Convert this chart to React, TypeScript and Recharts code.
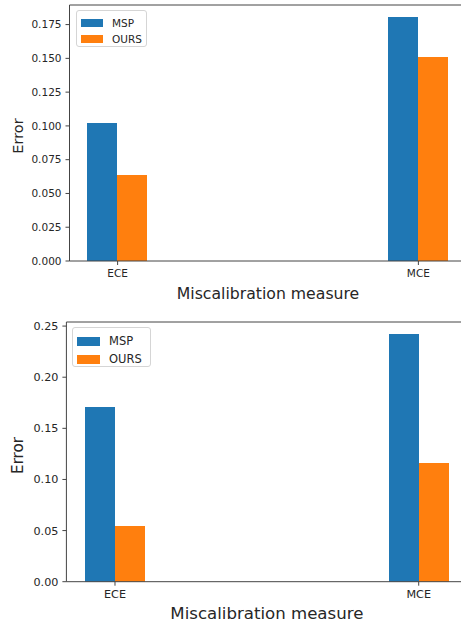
import { Bar, BarChart, ReferenceLine, XAxis, YAxis } from 'recharts';

const categories = ['ECE', 'MCE'];
const categoryPositions = [0, 1];
const seriesNames = ['MSP', 'OURS'];
const seriesColors = ['#1f77b4', '#ff7f0e'];

// top panel
const topMsp = [0.102, 0.1805];
const topOurs = [0.0635, 0.1512];
const topTicks = [0, 0.025, 0.05, 0.075, 0.1, 0.125, 0.15, 0.175];
const topMax = 0.1895;

// bottom panel
const bottomMsp = [0.1705, 0.2419];
const bottomOurs = [0.0548, 0.1158];
const bottomTicks = [0, 0.05, 0.1, 0.15, 0.2, 0.25];
const bottomMax = 0.254;

const FONT = '"DejaVu Sans", Verdana, sans-serif';
const AXIS = '#444';
const TEXT = '#262626';

function buildRows(msp: number[], ours: number[]) {
  return categoryPositions.map((x, i) => ({ x, name: categories[i], MSP: msp[i], OURS: ours[i] }));
}

type PanelProps = {
  top: number;
  height: number;
  msp: number[];
  ours: number[];
  ticks: number[];
  yMax: number;
  digits: number;
  margin: { top: number; right: number; bottom: number; left: number };
  yAxisWidth: number;
  tickFont: number;
  xLabelFont: number;
  yLabelFont: number;
  xLabelDy: number;
  yLabelY: number;
  tickMargin: number;
  legend: { left: number; top: number; width: number; height: number; row: number; patchW: number; patchH: number; font: number };
};

function Panel(p: PanelProps) {
  const rows = buildRows(p.msp, p.ours);
  const XLabel = (props: any) => {
    const vb = props.viewBox || {};
    return (
      <text
        x={vb.x + vb.width / 2}
        y={vb.y + p.xLabelDy}
        textAnchor="middle"
        dominantBaseline="central"
        fontSize={p.xLabelFont}
        fontFamily={FONT}
        fill={TEXT}
      >
        Miscalibration measure
      </text>
    );
  };
  const YLabel = () => (
    <text
      x={17.5}
      y={p.yLabelY}
      transform={`rotate(-90, 17.5, ${p.yLabelY})`}
      textAnchor="middle"
      dominantBaseline="central"
      fontSize={p.yLabelFont}
      fontFamily={FONT}
      fill={TEXT}
    >
      Error
    </text>
  );
  const lg = p.legend;
  return (
    <div style={{ position: 'absolute', left: 0, top: p.top, width: 480, height: p.height }}>
      <BarChart width={480} height={p.height} data={rows} margin={p.margin} barGap={0}>
        <XAxis
          dataKey="x"
          type="number"
          domain={[-0.16, 1.16]}
          allowDataOverflow
          ticks={categoryPositions}
          tickFormatter={(v: number) => categories[categoryPositions.indexOf(v)] ?? ''}
          tick={{ fontSize: p.tickFont, fill: TEXT, fontFamily: FONT }}
          tickSize={4}
          tickMargin={p.tickMargin}
          stroke={AXIS}
          height={30}
          label={{ content: XLabel }}
        />
        <YAxis
          type="number"
          domain={[0, p.yMax]}
          allowDataOverflow
          ticks={p.ticks}
          interval={0}
          tickFormatter={(v: number) => v.toFixed(p.digits)}
          tick={{ fontSize: p.tickFont, fill: TEXT, fontFamily: FONT }}
          tickSize={4}
          tickMargin={4}
          stroke={AXIS}
          width={p.yAxisWidth}
          label={{ content: YLabel }}
        />
        <ReferenceLine y={p.yMax} stroke={AXIS} ifOverflow="visible" />
        {seriesNames.map((s, i) => (
          <Bar
            key={s}
            dataKey={s}
            fill={seriesColors[i]}
            barSize={30}
            shapeRendering="crispEdges"
            isAnimationActive={false}
          />
        ))}
      </BarChart>
      <div
        style={{
          position: 'absolute',
          left: lg.left,
          top: lg.top,
          width: lg.width,
          height: lg.height,
          boxSizing: 'border-box',
          border: '1px solid #d5d5d5',
          borderRadius: 3,
          background: 'rgba(255,255,255,0.8)',
          fontFamily: FONT,
          fontSize: lg.font,
          color: TEXT,
        }}
      >
        {seriesNames.map((s, i) => (
          <div
            key={s}
            style={{
              position: 'absolute',
              left: 4,
              top: 4 + i * lg.row,
              height: lg.row,
              display: 'flex',
              alignItems: 'center',
              whiteSpace: 'nowrap',
            }}
          >
            <span style={{ display: 'inline-block', width: lg.patchW, height: lg.patchH, background: seriesColors[i] }} />
            <span style={{ marginLeft: 9 }}>{s}</span>
          </div>
        ))}
      </div>
    </div>
  );
}

export default function App() {
  return (
    <div style={{ position: 'absolute', left: 0, top: 0, width: 461, height: 622, overflow: 'hidden', background: '#fff' }}>
      <Panel
        top={0}
        height={310}
        msp={topMsp}
        ours={topOurs}
        ticks={topTicks}
        yMax={topMax}
        digits={3}
        margin={{ top: 5, right: 13.5, bottom: 19, left: 0 }}
        yAxisWidth={69.5}
        tickFont={10.5}
        xLabelFont={15.7}
        yLabelFont={14.5}
        xLabelDy={32}
        yLabelY={136}
        tickMargin={5}
        legend={{ left: 76, top: 10, width: 71, height: 37, row: 16, patchW: 22, patchH: 8, font: 10.5 }}
      />
      <Panel
        top={310}
        height={312}
        msp={bottomMsp}
        ours={bottomOurs}
        ticks={bottomTicks}
        yMax={bottomMax}
        digits={2}
        margin={{ top: 12, right: 12.7, bottom: 10.3, left: 0 }}
        yAxisWidth={66.4}
        tickFont={11.2}
        xLabelFont={16.6}
        yLabelFont={15.1}
        xLabelDy={31.3}
        yLabelY={145.5}
        tickMargin={4.5}
        legend={{ left: 72, top: 17.3, width: 79, height: 39.5, row: 18, patchW: 23, patchH: 9, font: 11.5 }}
      />
    </div>
  );
}
